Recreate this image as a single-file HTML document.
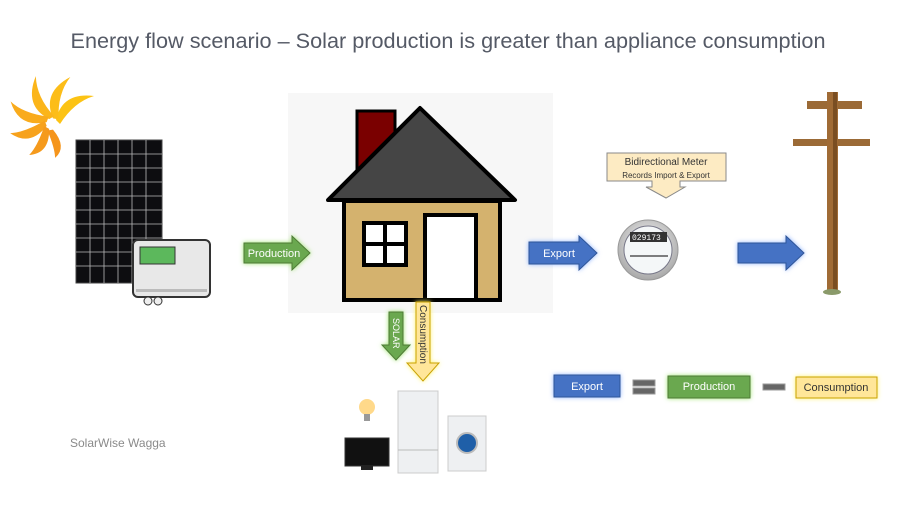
<!DOCTYPE html>
<html><head><meta charset="utf-8"><style>
body{margin:0;width:900px;height:500px;background:#fff;overflow:hidden;font-family:"Liberation Sans",sans-serif}
</style></head><body>
<svg width="900" height="500" viewBox="0 0 900 500" xmlns="http://www.w3.org/2000/svg">
<defs>
<filter id="gg" x="-30%" y="-50%" width="160%" height="200%"><feGaussianBlur in="SourceAlpha" stdDeviation="2.5" result="b"/><feFlood flood-color="#9be36a"/><feComposite in2="b" operator="in"/><feMerge><feMergeNode/><feMergeNode in="SourceGraphic"/></feMerge></filter>
<filter id="gb" x="-30%" y="-50%" width="160%" height="200%"><feGaussianBlur in="SourceAlpha" stdDeviation="2.5" result="b"/><feFlood flood-color="#8fb4ff"/><feComposite in2="b" operator="in"/><feMerge><feMergeNode/><feMergeNode in="SourceGraphic"/></feMerge></filter>
<filter id="gy" x="-50%" y="-30%" width="200%" height="160%"><feGaussianBlur in="SourceAlpha" stdDeviation="2.5" result="b"/><feFlood flood-color="#fff36a"/><feComposite in2="b" operator="in"/><feMerge><feMergeNode/><feMergeNode in="SourceGraphic"/></feMerge></filter>
<radialGradient id="mg" cx="50%" cy="40%" r="60%"><stop offset="0" stop-color="#fafafa"/><stop offset="1" stop-color="#a8a8a8"/></radialGradient>
</defs>
<text x="448" y="48" text-anchor="middle" font-size="21.5" fill="#555a66" textLength="755" lengthAdjust="spacingAndGlyphs">Energy flow scenario – Solar production is greater than appliance consumption</text>

<!-- sun -->
<g transform="translate(52,124)">
<g id="pt"><path d="M4 -4 Q10 -32 42 -28 Q22 -22 8 0Z" fill="#fcc314"/></g>
<path d="M4 -4 Q10 -32 42 -28 Q22 -22 8 0Z" fill="#fcbd18" transform="rotate(-35)"/>
<path d="M4 -4 Q10 -32 42 -28 Q22 -22 8 0Z" fill="#fbb51a" transform="rotate(-75)"/>
<path d="M4 -4 Q10 -32 38 -28 Q22 -22 8 0Z" fill="#f9ab1c" transform="rotate(-115)"/>
<path d="M4 -4 Q10 -30 34 -26 Q22 -20 8 0Z" fill="#f7a21c" transform="rotate(-155)"/>
<path d="M4 -4 Q10 -28 30 -24 Q20 -18 8 0Z" fill="#f59a1c" transform="rotate(-195)"/>
<path d="M4 -4 Q10 -26 26 -22 Q18 -16 8 0Z" fill="#f5951c" transform="rotate(-235)"/>
</g>

<!-- panel -->
<rect x="76" y="140" width="86" height="143" fill="#0d0d10" stroke="#444"/>
<g stroke="#bbb" stroke-width="0.8">
<line x1="90" y1="140" x2="90" y2="283"/><line x1="104" y1="140" x2="104" y2="283"/><line x1="118" y1="140" x2="118" y2="283"/><line x1="132" y1="140" x2="132" y2="283"/><line x1="146" y1="140" x2="146" y2="283"/>
<line x1="76" y1="154" x2="162" y2="154"/><line x1="76" y1="168" x2="162" y2="168"/><line x1="76" y1="182" x2="162" y2="182"/><line x1="76" y1="196" x2="162" y2="196"/><line x1="76" y1="210" x2="162" y2="210"/><line x1="76" y1="224" x2="162" y2="224"/><line x1="76" y1="238" x2="162" y2="238"/><line x1="76" y1="252" x2="162" y2="252"/><line x1="76" y1="266" x2="162" y2="266"/>
</g>
<!-- inverter -->
<rect x="133" y="240" width="77" height="57" rx="5" fill="#e8e8e8" stroke="#333" stroke-width="2"/>
<rect x="140" y="247" width="35" height="17" fill="#5cb85c" stroke="#333"/>
<rect x="136" y="289" width="71" height="3" fill="#bbb"/>
<circle cx="148" cy="301" r="4" fill="#eee" stroke="#333"/><circle cx="158" cy="301" r="4" fill="#eee" stroke="#333"/>

<!-- house panel -->
<rect x="288" y="93" width="265" height="220" fill="#f7f7f7"/>

<!-- Production arrow -->
<g filter="url(#gg)"><path d="M244 243 H292 V236 L310 253 L292 270 V263 H244Z" fill="#6aa84f" stroke="#4e7a36"/></g>
<text x="274" y="257" text-anchor="middle" font-size="11" fill="#fff">Production</text>

<rect x="357" y="111" width="38" height="60" fill="#7a0000" stroke="#000" stroke-width="3"/>
<polygon points="420,108 515,200 328,200" fill="#454545" stroke="#000" stroke-width="4" stroke-linejoin="round"/>
<rect x="344" y="201" width="156" height="99" fill="#d4b26e" stroke="#000" stroke-width="4"/>
<rect x="364" y="223" width="42" height="42" fill="#fff" stroke="#000" stroke-width="4"/>
<line x1="385" y1="223" x2="385" y2="265" stroke="#000" stroke-width="4"/><line x1="364" y1="244" x2="406" y2="244" stroke="#000" stroke-width="4"/>
<rect x="425" y="215" width="51" height="85" fill="#fff" stroke="#000" stroke-width="4"/>

<!-- down arrows -->
<g filter="url(#gg)"><path d="M389 312 H403 V345 H410 L396 360 L382 345 H389Z" fill="#6aa84f" stroke="#4e7a36"/></g>
<text transform="translate(393,318) rotate(90)" font-size="9" fill="#fff">SOLAR</text>
<g filter="url(#gy)"><path d="M416 302 H430 V363 H439 L423 381 L407 363 H416Z" fill="#ffe699" stroke="#c9a100"/></g>
<text transform="translate(420,305) rotate(90)" font-size="10" fill="#333">Consumption</text>

<!-- appliances -->
<circle cx="367" cy="407" r="8" fill="#ffd98a"/><rect x="364" y="414" width="6" height="7" fill="#999"/>
<rect x="345" y="438" width="44" height="28" fill="#111" stroke="#333"/><rect x="361" y="466" width="12" height="4" fill="#222"/>
<rect x="398" y="391" width="40" height="82" fill="#eef0f2" stroke="#ccc"/><line x1="398" y1="450" x2="438" y2="450" stroke="#bbb"/>
<rect x="448" y="416" width="38" height="55" fill="#eef0f2" stroke="#ccc"/><circle cx="467" cy="443" r="10" fill="#1f5fa8" stroke="#bbb" stroke-width="2"/>

<text x="70" y="447" font-size="12" fill="#8a8a8a">SolarWise Wagga</text>

<!-- Export arrow -->
<g filter="url(#gb)"><path d="M529 242 H579 V236 L597 253 L579 270 V264 H529Z" fill="#4472c4" stroke="#2f5597"/></g>
<text x="559" y="257" text-anchor="middle" font-size="11" fill="#fff">Export</text>

<!-- meter callout -->
<path d="M607 153 H726 V181 H680 V187 H685 L666 198 L646 187 H652 V181 H607Z" fill="#fdebc3" stroke="#8a8a8a"/>
<text x="666" y="165" text-anchor="middle" font-size="10" fill="#333">Bidirectional Meter</text>
<text x="666" y="178" text-anchor="middle" font-size="8" fill="#333">Records Import &amp; Export</text>
<circle cx="648" cy="250" r="30" fill="url(#mg)" stroke="#999"/>
<circle cx="648" cy="250" r="24" fill="#f4f7f8" stroke="#778"/>
<rect x="630" y="232" width="37" height="10" fill="#333"/>
<text x="632" y="240" font-size="8" fill="#fff" font-family="Liberation Mono">029173</text>
<line x1="630" y1="256" x2="668" y2="256" stroke="#555" stroke-width="1.5"/>

<!-- grid arrow -->
<g filter="url(#gb)"><path d="M738 243 H786 V236 L804 253 L786 270 V263 H738Z" fill="#4472c4" stroke="#2f5597"/></g>

<!-- pole -->
<rect x="807" y="101" width="55" height="8" fill="#9b6a36"/>
<rect x="793" y="139" width="77" height="7" fill="#9b6a36"/>
<rect x="827" y="92" width="11" height="200" fill="#a06b35"/>
<rect x="833" y="92" width="4" height="200" fill="#7a4e22"/>
<ellipse cx="832" cy="292" rx="9" ry="3" fill="#8a9a6a"/>

<!-- equation -->
<g filter="url(#gb)"><rect x="554" y="375" width="66" height="22" fill="#4472c4" stroke="#2f5597"/></g>
<text x="587" y="390" text-anchor="middle" font-size="11" fill="#fff">Export</text>
<rect x="633" y="380" width="22" height="6" fill="#666" stroke="#999"/><rect x="633" y="388" width="22" height="6" fill="#666" stroke="#999"/>
<g filter="url(#gg)"><rect x="668" y="376" width="82" height="22" fill="#6aa84f" stroke="#4e7a36"/></g>
<text x="709" y="390" text-anchor="middle" font-size="11" fill="#fff">Production</text>
<rect x="763" y="384" width="22" height="6" fill="#666" stroke="#999"/>
<g filter="url(#gy)"><rect x="796" y="377" width="81" height="21" fill="#ffe699" stroke="#c9a100"/></g>
<text x="836" y="391" text-anchor="middle" font-size="11" fill="#333">Consumption</text>
</svg>
</body></html>
